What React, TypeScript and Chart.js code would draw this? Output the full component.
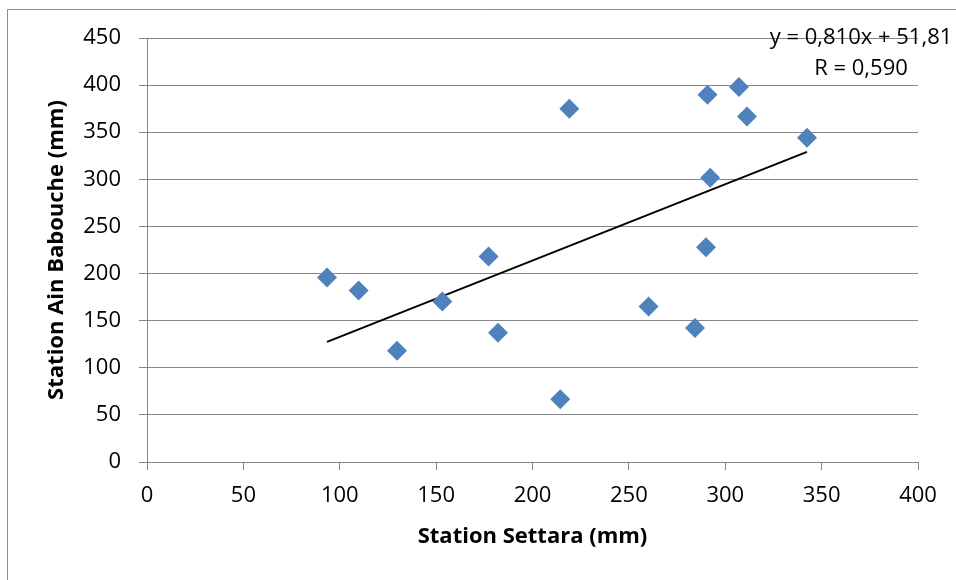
import { useEffect, useRef } from 'react';
import { Chart, registerables } from 'chart.js';

Chart.register(...registerables);

// Data
const settara = [93.4, 109.8, 129.7, 153.2, 177.2, 182.1, 214.4, 219.1, 260.2, 284.3, 290.0, 290.8, 292.2, 307.1, 311.3, 342.4];
const ainBabouche = [195.8, 181.9, 118.2, 170.3, 218.1, 137.3, 66.6, 374.9, 165.0, 142.3, 228.0, 389.8, 301.6, 398.0, 366.8, 344.1];

const trendSlope = 0.81;
const trendIntercept = 51.81;
const equationLines = ['y = 0,810x + 51,81', 'R = 0,590'];

const xTitle = 'Station Settara (mm)';
const yTitle = 'Station Ain Babouche (mm)';
const xMin = 0, xMax = 400, xStep = 50;
const yMin = 0, yMax = 450, yStep = 50;

const FONT = '"Open Sans", "Liberation Sans", sans-serif';
const GRID = '#868686';

export default function App() {
  const ref = useRef<HTMLCanvasElement | null>(null);

  useEffect(() => {
    if (!ref.current) return;
    const points = settara.map((x, i) => ({ x, y: ainBabouche[i] }));
    const lo = Math.min(...settara);
    const hi = Math.max(...settara);
    const trend = [
      { x: lo, y: trendSlope * lo + trendIntercept },
      { x: hi, y: trendSlope * hi + trendIntercept },
    ];

    const decor = {
      id: 'decor',
      afterDraw(chart: any) {
        const ctx = chart.ctx as CanvasRenderingContext2D;
        ctx.save();
        // outer frame (partly visible)
        ctx.strokeStyle = '#8c8c8c';
        ctx.lineWidth = 1;
        ctx.beginPath();
        ctx.moveTo(7.5, 580);
        ctx.lineTo(7.5, 9.5);
        ctx.lineTo(956, 9.5);
        ctx.stroke();
        // trendline equation
        ctx.fillStyle = '#000';
        ctx.font = '22px ' + FONT;
        ctx.textAlign = 'center';
        ctx.textBaseline = 'middle';
        equationLines.forEach((t, i) => ctx.fillText(t, 861, 38 + i * 31));
        ctx.restore();
      },
    };

    const chart = new Chart(ref.current, {
      type: 'scatter',
      data: {
        datasets: [
          {
            data: points,
            pointStyle: 'rectRot',
            pointRadius: 10,
            backgroundColor: '#4F81BD',
            borderColor: '#4F81BD',
            borderWidth: 0,
          },
          {
            data: trend,
            showLine: true,
            borderColor: '#000',
            borderWidth: 2,
            pointRadius: 0,
          } as any,
        ],
      },
      options: {
        responsive: false,
        animation: false,
        devicePixelRatio: 1,
        layout: { padding: { left: 0, right: 38, top: 38, bottom: 0 } },
        plugins: { legend: { display: false }, tooltip: { enabled: false } },
        scales: {
          x: {
            type: 'linear',
            min: xMin,
            max: xMax,
            afterFit: (s: any) => { s.height = 118; },
            ticks: { stepSize: xStep, autoSkip: false, color: '#000', padding: 13, font: { family: FONT, size: 22 } },
            grid: { drawOnChartArea: false, drawTicks: true, tickLength: 8, color: GRID },
            border: { display: true, color: GRID },
            title: {
              display: true,
              text: xTitle,
              color: '#000',
              font: { family: FONT, size: 22, weight: 'bold' },
              padding: { top: 0, bottom: 30 },
            },
          },
          y: {
            type: 'linear',
            min: yMin,
            max: yMax,
            afterFit: (s: any) => { s.width = 147; },
            ticks: { stepSize: yStep, autoSkip: false, color: '#000', padding: 18, font: { family: FONT, size: 22 } },
            grid: { drawTicks: true, tickLength: 8, color: GRID, lineWidth: 1 },
            border: { display: true, color: GRID },
            title: {
              display: true,
              text: yTitle,
              color: '#000',
              font: { family: FONT, size: 22, weight: 'bold' },
              padding: { top: 44, bottom: 0 },
            },
          },
        },
      },
      plugins: [decor],
    } as any);
    return () => chart.destroy();
  }, []);

  return (
    <div style={{ position: 'fixed', left: 0, top: 0, width: 956, height: 580, background: '#fff' }}>
      <canvas ref={ref} width={956} height={580} style={{ display: 'block' }} />
    </div>
  );
}
